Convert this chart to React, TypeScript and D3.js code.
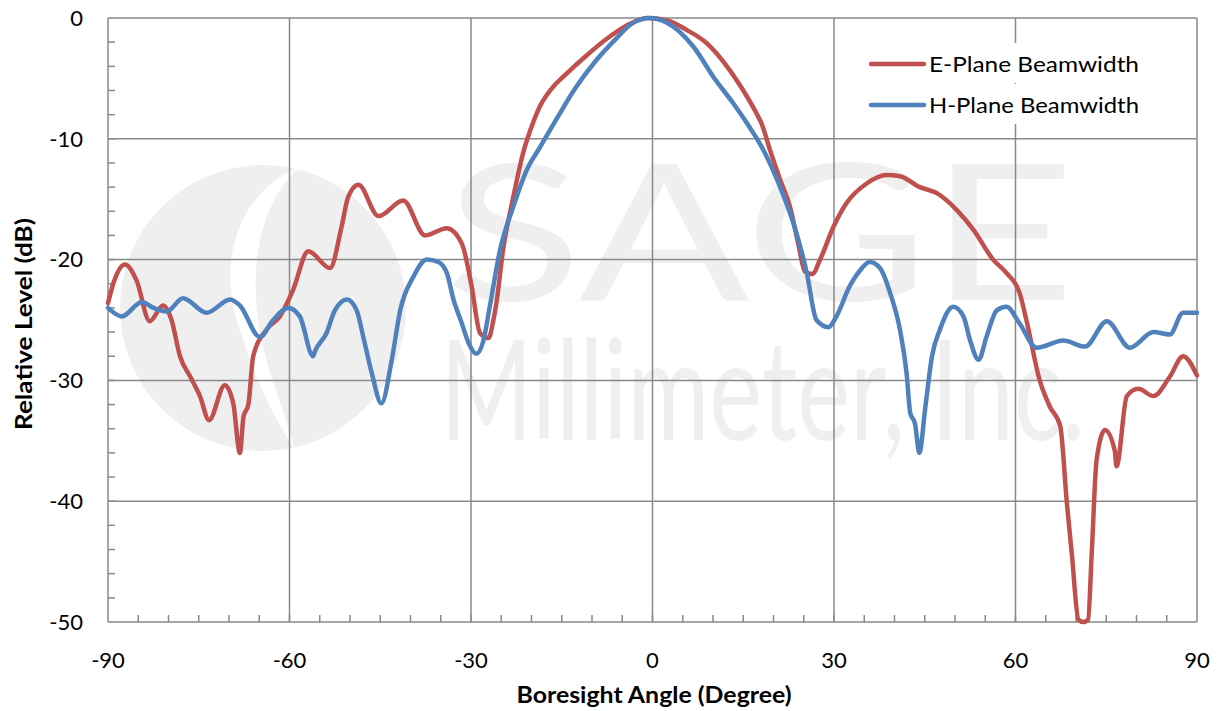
import React, { useEffect, useRef } from "react";
import * as d3 from "d3";

// E-plane pattern (red)
const eAngles = [
  -90, -89, -87.2, -85.3, -83.1, -80.9, -79.5, -78.1, -76.4, -74.8, -73.3, -70.7, -69.3, -68.2, -67.6,
  -66.8, -66, -63.8, -61.6, -59.4, -56.9, -53.3, -51.4, -50.3, -48.6, -45.3, -41.2, -37.6, -34, -31.5,
  -29.9, -28.5, -27.1, -26.3, -25.8, -24.7, -23, -21.4, -20.2, -18.6, -16.6, -14.2, -10.9, -7.5, -4.2,
  -0.9, 2.4, 5.7, 9, 12.3, 15, 17.2, 18, 19.4, 21.1, 22.7, 24.1, 25.2, 26.4, 27.7, 29.9, 32.1, 35.4,
  38.7, 40.9, 44.2, 47, 50.3, 53, 56.3, 58.5, 60.7, 61.8, 64, 65.7, 67.4, 68.5, 69.3, 70.4, 71.2, 72,
  72.6, 73.4, 74.8, 76.4, 76.7, 78.4, 80.3, 82.8, 85.5, 87.7, 90,
];
const eLevels = [
  -23.6, -21.8, -20.4, -21.7, -25.1, -23.8, -25, -28, -29.7, -31.3, -33.3, -30.4, -31.9, -36, -33,
  -32, -28, -25.8, -24.7, -22.5, -19.3, -20.7, -17.3, -14.8, -13.8, -16.4, -15.1, -18, -17.4, -18.7,
  -22.2, -26.1, -26.5, -25, -23.6, -19.2, -14.8, -11.2, -9.3, -7.3, -5.8, -4.6, -3.1, -1.7, -0.6,
  0, -0.2, -1, -2.1, -4, -6, -7.9, -8.7, -10.9, -13.4, -15.6, -18.7, -21, -21.2, -20, -17.3, -15.3, -13.7,
  -13, -13.1, -14, -14.5, -15.9, -17.5, -20, -21.1, -22.8, -25, -30, -32.2, -33.8, -40.2, -44.3, -49.8, -50, -49.8,
  -44.3, -36.6, -34.1, -35.8, -37.1, -31.3, -30.7, -31.3, -29.7, -28, -29.6,
];

// H-plane pattern (blue)
const hAngles = [
  -90, -87.7, -84.4, -82.5, -80.3, -77.6, -73.7, -69.8, -68.2, -64.9, -62.7, -60.2, -58.3, -56.1, -55.8,
  -53.9, -52.5, -50.5, -48.9, -47.8, -46.4, -44.8, -43.1, -41.7, -39.5, -37.3, -35.4, -34, -32.9, -31.5,
  -30.4, -29.1, -28, -26.9, -25.2, -23, -20.8, -18.6, -15.9, -12.6, -9.3, -6, -3.2, -0.4, 2.4, 6.8,
  10.1, 13.4, 15.6, 18.3, 21.1, 23.8, 25.5, 27.1, 29.1, 30.4, 32.6, 34.3, 35.9, 37.6, 39.3, 40.9, 42,
  42.6, 43.4, 44.1, 45.1, 46.2, 47.5, 49.7, 51.4, 52.5, 53.9, 55.2, 56.9, 58.5, 60.7, 63.5, 67.9,
  71.5, 75.1, 78.9, 82.8, 85.5, 87.7, 90,
];
const hLevels = [
  -24, -24.7, -23.5, -24, -24.3, -23.2, -24.4, -23.3, -23.8, -26.4, -25, -24, -24.7, -28, -27.6,
  -26.1, -24.2, -23.3, -24.2, -26.4, -29.4, -31.9, -28.3, -24.2, -21.4, -20, -20.2, -21.1, -23.3, -25.3,
  -26.9, -27.8, -26.8, -23.9, -19.2, -15.6, -12.6, -10.7, -8.4, -5.7, -3.5, -1.7, -0.4, 0, -0.4, -2.4,
  -4.9, -7.1, -8.7, -10.9, -14, -17.8, -21.1, -25, -25.6, -24.7, -22.2, -20.9, -20.2, -20.7, -22.8, -25.8, -29.4,
  -32.7, -33.6, -36, -32.2, -28, -25.8, -23.9, -24.7, -26.7, -28.3, -26.4, -24.2, -23.9, -25.3, -27.3, -26.7,
  -27.2, -25.1, -27.3, -26, -26.2, -24.4, -24.4,
];

const xTicks = [-90, -60, -30, 0, 30, 60, 90];
const yTicks = [0, -10, -20, -30, -40, -50];
const seriesNames = ["E-Plane Beamwidth", "H-Plane Beamwidth"];
const seriesColors = ["#c0504d", "#4f81bd"];

const W = 1217;
const H = 711;
const margin = { top: 18, right: 20, bottom: 89, left: 108 };
const FONT = "Lato, 'Open Sans', sans-serif";

const App = () => {
  const ref = useRef<SVGSVGElement>(null);

  useEffect(() => {
    const svg = d3.select(ref.current);
    svg.selectAll("*").remove();

    const x = d3.scaleLinear().domain([-90, 90]).range([margin.left, W - margin.right]);
    const y = d3.scaleLinear().domain([-50, 0]).range([H - margin.bottom, margin.top]);
    const [x0, x1] = x.range();
    const [y0, y1] = [y(0), y(-50)];

    svg.append("rect").attr("width", W).attr("height", H).attr("fill", "#fff");

    // faint company watermark
    const wm = svg.append("g").attr("fill", "#efefef");
    wm.append("circle").attr("cx", 263).attr("cy", 308).attr("r", 143);
    wm.append("path")
      .attr("d", "M 300 167 C 240 190 215 260 240 330 C 255 380 275 420 295 450 C 285 410 265 370 258 320 C 250 260 262 200 300 167 Z")
      .attr("fill", "#fff");
    wm.append("text")
      .attr("x", 445).attr("y", 300)
      .attr("font-family", FONT).attr("font-size", 190)
      .attr("textLength", 630).attr("lengthAdjust", "spacingAndGlyphs")
      .text("SAGE");
    wm.append("text")
      .attr("x", 440).attr("y", 440)
      .attr("font-family", FONT).attr("font-size", 140)
      .attr("textLength", 645).attr("lengthAdjust", "spacingAndGlyphs")
      .text("Millimeter, Inc.");

    // grid
    const grid = svg.append("g").attr("stroke", "#898989").attr("stroke-width", 1.5);
    xTicks.forEach((t) => {
      grid.append("line").attr("x1", x(t)).attr("x2", x(t)).attr("y1", y0).attr("y2", y1);
    });
    yTicks.forEach((t) => {
      grid.append("line").attr("x1", x0).attr("x2", x1).attr("y1", y(t)).attr("y2", y(t));
    });

    // minor ticks, pointing into the plot
    d3.range(-85, 90, 5).forEach((t) => {
      grid.append("line").attr("x1", x(t)).attr("x2", x(t)).attr("y1", y1).attr("y2", y1 - 7);
    });
    d3.range(-48, 0, 2).forEach((t) => {
      grid.append("line").attr("x1", x0).attr("x2", x0 + 7).attr("y1", y(t)).attr("y2", y(t));
    });

    // curves
    const line = d3
      .line<[number, number]>()
      .x((d) => x(d[0]))
      .y((d) => y(d[1]))
      .curve(d3.curveMonotoneX);

    const series = [d3.zip(eAngles, eLevels), d3.zip(hAngles, hLevels)];
    series.forEach((pts, i) => {
      svg.append("path")
        .datum(pts as [number, number][])
        .attr("d", line)
        .attr("fill", "none")
        .attr("stroke", seriesColors[i])
        .attr("stroke-width", 4.5)
        .attr("stroke-linejoin", "round")
        .attr("stroke-linecap", "round");
    });

    // tick labels
    const labels = svg.append("g").attr("font-family", FONT).attr("font-size", 22).attr("fill", "#000");
    yTicks.forEach((t) => {
      labels.append("text").attr("x", 83).attr("y", y(t)).attr("dy", "0.35em")
        .attr("text-anchor", "end").text(t);
    });
    xTicks.forEach((t) => {
      labels.append("text").attr("x", x(t)).attr("y", 660).attr("dy", "0.35em")
        .attr("text-anchor", "middle").text(t);
    });

    // axis titles
    svg.append("text")
      .attr("x", 654).attr("y", 695).attr("dy", "0.35em")
      .attr("text-anchor", "middle").attr("font-family", FONT)
      .attr("font-size", 23).attr("font-weight", "bold")
      .attr("textLength", 275).attr("lengthAdjust", "spacingAndGlyphs")
      .text("Boresight Angle (Degree)");
    svg.append("text")
      .attr("transform", `translate(24,324) rotate(-90)`)
      .attr("dy", "0.35em")
      .attr("text-anchor", "middle").attr("font-family", FONT)
      .attr("font-size", 23).attr("font-weight", "bold")
      .attr("textLength", 212).attr("lengthAdjust", "spacingAndGlyphs")
      .text("Relative Level (dB)");

    // legend
    const legend = svg.append("g");
    seriesNames.forEach((name, i) => {
      const ly = 64 + i * 41;
      legend.append("rect").attr("x", 864).attr("y", ly - 21).attr("width", 290).attr("height", 40).attr("fill", "#fff");
      legend.append("line")
        .attr("x1", 871).attr("x2", 924).attr("y1", ly).attr("y2", ly)
        .attr("stroke", seriesColors[i]).attr("stroke-width", 4.5).attr("stroke-linecap", "round");
      legend.append("text")
        .attr("x", 929).attr("y", ly).attr("dy", "0.35em")
        .attr("font-family", FONT).attr("font-size", 22)
        .attr("textLength", 210).attr("lengthAdjust", "spacingAndGlyphs")
        .text(name);
    });
  }, []);

  return (
    <svg
      ref={ref}
      width={W}
      height={H}
      style={{ position: "absolute", left: 0, top: 0 }}
    />
  );
};

export default App;
